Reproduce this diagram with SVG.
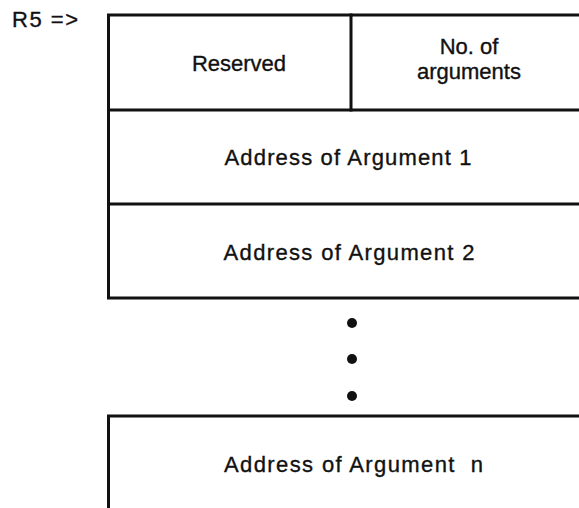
<svg xmlns="http://www.w3.org/2000/svg" width="579" height="508" viewBox="0 0 579 508">
<style>
.t{font-family:"Liberation Sans",Arial,sans-serif;font-size:22px;fill:#111;stroke:#111;stroke-width:0.35;text-anchor:middle}
.b{stroke:#111;stroke-width:3;fill:none;stroke-linecap:square}
.d{fill:#111}
</style>
<rect x="0" y="0" width="579" height="508" fill="#fff"/>
<g id="r5-label">
<text class="t" x="45" y="27" textLength="66" lengthAdjust="spacing">R5 =&gt;</text>
</g>
<g id="reserved">
<path class="b" d="M108.5,15 H351 M108.5,15 V110"/>
<text class="t" x="239" y="71">Reserved</text>
</g>
<g id="no-of-arguments">
<path class="b" d="M351,15 H579 M351,15 V110"/>
<text class="t" x="469" y="54">No. of</text>
<text class="t" x="469" y="79">arguments</text>
</g>
<g id="argument-1">
<path class="b" d="M108.5,110 H579 M108.5,110 V204"/>
<text class="t" x="348" y="165" textLength="247" lengthAdjust="spacing">Address of Argument 1</text>
</g>
<g id="argument-2">
<path class="b" d="M108.5,204 H579 M108.5,204 V298 H579"/>
<text class="t" x="349" y="260" textLength="251" lengthAdjust="spacing">Address of Argument 2</text>
</g>
<g id="ellipsis">
<circle class="d" cx="352" cy="323" r="5"/>
<circle class="d" cx="352" cy="359" r="5"/>
<circle class="d" cx="352" cy="396" r="5"/>
</g>
<g id="argument-n">
<path class="b" d="M108.5,416 H579 M108.5,416 V510"/>
<text class="t" x="353.5" y="472" textLength="259" lengthAdjust="spacing" xml:space="preserve">Address of Argument  n</text>
</g>
<g id="connectors"></g>
</svg>
